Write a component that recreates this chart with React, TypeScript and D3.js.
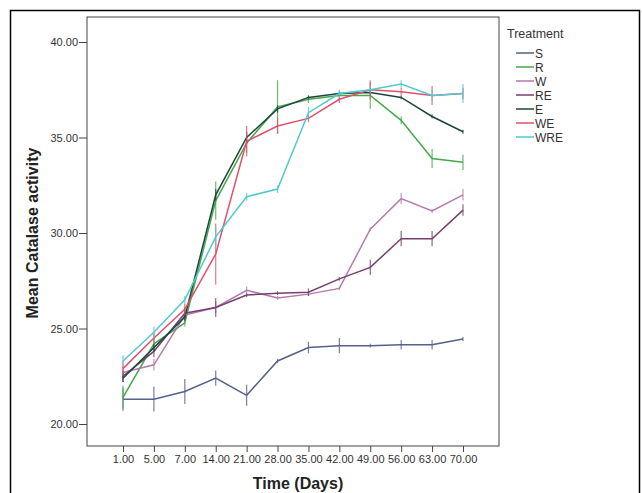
import * as d3 from "d3";
import React, { useRef, useEffect } from "react";

const days = ["1.00", "5.00", "7.00", "14.00", "21.00", "28.00", "35.00", "42.00", "49.00", "56.00", "63.00", "70.00"];
const yTicks = [20, 25, 30, 35, 40];

const treatments = ["S", "R", "W", "RE", "E", "WE", "WRE"];
const colors = ["#56608a", "#45a84a", "#b57aab", "#74406f", "#1e4640", "#e0506a", "#52c9d2"];

const sMean = [21.3, 21.3, 21.7, 22.4, 21.5, 23.3, 24.0, 24.1, 24.1, 24.15, 24.15, 24.45];
const sErr = [0.6, 0.65, 0.65, 0.4, 0.55, 0.1, 0.3, 0.4, 0.1, 0.25, 0.25, 0.1];
const rMean = [21.4, 24.2, 25.3, 31.7, 34.7, 36.6, 37.0, 37.2, 37.2, 35.9, 33.9, 33.7];
const rErr = [0.6, 0.3, 0.2, 1.0, 0.5, 1.4, 0.2, 0.2, 0.7, 0.2, 0.5, 0.4];
const wMean = [22.7, 23.1, 25.7, 26.1, 27.0, 26.6, 26.8, 27.1, 30.2, 31.8, 31.15, 32.0];
const wErr = [0.3, 0.3, 0.3, 0.3, 0.2, 0.1, 0.1, 0.1, 0.1, 0.3, 0.1, 0.3];
const reMean = [22.5, 23.8, 25.8, 26.1, 26.75, 26.85, 26.9, 27.6, 28.2, 29.7, 29.7, 31.2];
const reErr = [0.3, 0.3, 0.3, 0.5, 0.1, 0.1, 0.2, 0.1, 0.4, 0.4, 0.4, 0.3];
const eMean = [22.4, 24.0, 25.6, 32.0, 35.0, 36.5, 37.1, 37.3, 37.35, 37.1, 36.1, 35.3];
const eErr = [0.2, 0.2, 0.2, 0.3, 0.3, 0.2, 0.1, 0.1, 0.1, 0.1, 0.1, 0.1];
const weMean = [22.9, 24.5, 26.0, 28.9, 34.8, 35.6, 36.0, 37.0, 37.5, 37.4, 37.2, 37.3];
const weErr = [0.4, 0.3, 0.3, 1.6, 0.8, 0.4, 0.2, 0.2, 0.5, 0.2, 0.5, 0.3];
const wreMean = [23.3, 24.8, 26.5, 29.8, 31.9, 32.3, 36.3, 37.3, 37.5, 37.8, 37.2, 37.3];
const wreErr = [0.3, 0.3, 0.2, 0.5, 0.2, 0.2, 0.3, 0.2, 0.2, 0.2, 0.3, 0.5];

const means = [sMean, rMean, wMean, reMean, eMean, weMean, wreMean];
const errs = [sErr, rErr, wErr, reErr, eErr, weErr, wreErr];

const WIDTH = 642;
const HEIGHT = 493;

const App = () => {
	const svgRef = useRef<SVGSVGElement>(null);

	useEffect(() => {
		const svg = d3.select(svgRef.current);
		svg.selectAll("*").remove();

		const font = "'Liberation Sans', Arial, sans-serif";
		const left = 87, right = 499, top = 17, bottom = 446;

		const x = d3.scalePoint().domain(days).range([123, 463]);
		const y = d3.scaleLinear().domain([20, 40]).range([424, 42]);

		// outer frame
		svg.append("rect").attr("x", 10.5).attr("y", 10.5).attr("width", 629).attr("height", 490)
			.attr("fill", "none").attr("stroke", "#000").attr("stroke-width", 1.5);

		// plot frame
		svg.append("rect").attr("x", left).attr("y", top).attr("width", right - left).attr("height", bottom - top)
			.attr("fill", "#fff").attr("stroke", "#444").attr("stroke-width", 1);

		const yAxis = svg.append("g").attr("transform", `translate(${left},0)`)
			.call(d3.axisLeft(y).tickValues(yTicks).tickFormat(d3.format(".2f")).tickSize(8).tickPadding(1));
		yAxis.select(".domain").remove();
		yAxis.selectAll("line").attr("stroke", "#444");
		yAxis.selectAll("text").attr("font-family", font).attr("font-size", 11).attr("fill", "#333");

		const xAxis = svg.append("g").attr("transform", `translate(0,${bottom})`)
			.call(d3.axisBottom(x).tickSize(6).tickPadding(3));
		xAxis.select(".domain").remove();
		xAxis.selectAll("line").attr("stroke", "#444");
		xAxis.selectAll("text").attr("font-family", font).attr("font-size", 11).attr("fill", "#333");

		svg.append("text").attr("x", 298).attr("y", 489).attr("text-anchor", "middle")
			.attr("font-family", font).attr("font-size", 16).attr("font-weight", "bold").attr("fill", "#222")
			.text("Time (Days)");

		svg.append("text").attr("transform", `translate(38,233) rotate(-90)`).attr("text-anchor", "middle")
			.attr("font-family", font).attr("font-size", 16).attr("font-weight", "bold").attr("fill", "#222")
			.text("Mean Catalase activity");

		const line = d3.line<number>().x((d, i) => x(days[i]) as number).y((d) => y(d));

		treatments.forEach((t, k) => {
			const g = svg.append("g");
			g.selectAll("line.err").data(means[k]).enter().append("line")
				.attr("x1", (d, i) => x(days[i]) as number).attr("x2", (d, i) => x(days[i]) as number)
				.attr("y1", (d, i) => y(d - errs[k][i])).attr("y2", (d, i) => y(d + errs[k][i]))
				.attr("stroke", colors[k]).attr("stroke-opacity", 0.8).attr("stroke-width", 1.2);
			g.append("path").datum(means[k]).attr("fill", "none").attr("stroke", colors[k])
				.attr("stroke-width", 1.5).attr("d", line);
		});

		// legend
		svg.append("text").attr("x", 507).attr("y", 38).attr("font-family", font).attr("font-size", 12.5)
			.attr("fill", "#333").text("Treatment");
		treatments.forEach((t, k) => {
			const ly = 53 + k * 14;
			svg.append("line").attr("x1", 516).attr("x2", 534).attr("y1", ly).attr("y2", ly)
				.attr("stroke", colors[k]).attr("stroke-width", 1.5);
			svg.append("text").attr("x", 535).attr("y", ly + 4.5).attr("font-family", font).attr("font-size", 12)
				.attr("fill", "#333").text(t);
		});
	}, []);

	return (
		<svg ref={svgRef} width={WIDTH} height={HEIGHT} viewBox={`0 0 ${WIDTH} ${HEIGHT}`}
			style={{ position: "absolute", left: 0, top: 0, background: "#fff" }} />
	);
};

export default App;
